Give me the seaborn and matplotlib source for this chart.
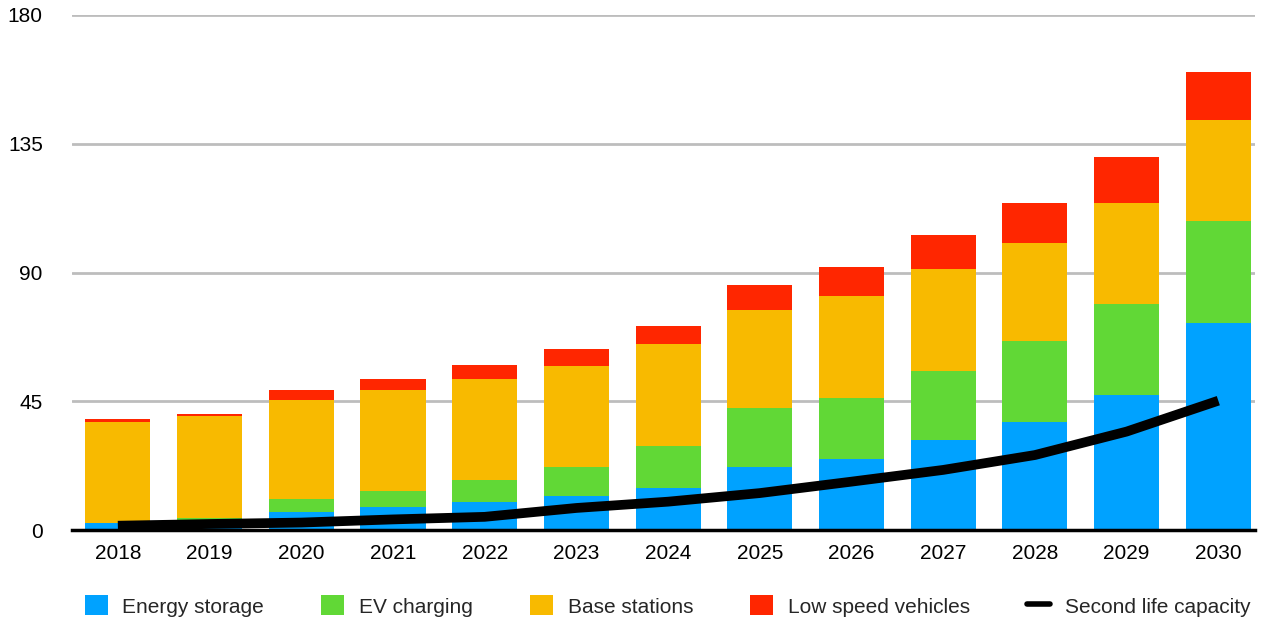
import numpy as np
import pandas as pd
import matplotlib
matplotlib.use("Agg")
import matplotlib.pyplot as plt
from matplotlib.patches import Patch
from matplotlib.lines import Line2D
import seaborn as sns

years = ["2018", "2019", "2020", "2021", "2022", "2023", "2024",
         "2025", "2026", "2027", "2028", "2029", "2030"]
energy_storage = [2.5, 3.6, 6.3, 8.0, 9.8, 12.0, 14.7, 22.0, 24.8, 31.5, 37.7, 47.2, 72.4]
ev_charging = [0.0, 0.7, 4.5, 5.6, 7.7, 10.0, 14.8, 20.8, 21.3, 24.1, 28.4, 31.8, 35.6]
base_stations = [35.2, 35.6, 34.6, 35.3, 35.3, 35.3, 35.5, 34.1, 35.7, 35.6, 34.2, 35.3, 35.3]
low_speed = [1.1, 0.7, 3.5, 3.9, 4.9, 6.0, 6.3, 8.7, 10.1, 11.9, 14.0, 16.1, 16.8]
second_life = [1.5, 2.1, 2.6, 3.7, 4.6, 7.7, 9.9, 12.9, 16.9, 21.0, 26.2, 34.4, 45.2]
y_ticks = [0, 45, 90, 135, 180]

series_names = ["Energy storage", "EV charging", "Base stations", "Low speed vehicles"]
colors = ["#00A2FF", "#61D836", "#F8BA00", "#FF2600"]

sns.set_theme(style="white")
plt.rcParams["font.family"] = ["Liberation Sans", "DejaVu Sans"]

fig = plt.figure(figsize=(12.67, 6.21), dpi=100)
ax = fig.add_axes([72 / 1267, 1 - 530 / 621, (1255 - 72) / 1267, 515 / 621])

layers = np.array([energy_storage, ev_charging, base_stations, low_speed])
cum = np.cumsum(layers, axis=0)
df = pd.DataFrame({"year": years})
for i in range(len(series_names)):
    df[series_names[i]] = cum[i]

# draw cumulative totals from top to bottom so the stacks appear
for i in reversed(range(len(series_names))):
    sns.barplot(data=df, x="year", y=series_names[i], color=colors[i],
                width=0.71, saturation=1, ax=ax, zorder=2, linewidth=0,
                edgecolor="none")

line_df = pd.DataFrame({"pos": np.arange(len(years)), "val": second_life})
sns.lineplot(data=line_df, x="pos", y="val", color="black", linewidth=7,
             ax=ax, zorder=4, solid_capstyle="butt")

ax.set_ylim(0, 180)
ax.set_xlim(-0.5, 12.4)
ax.set_yticks(y_ticks)
ax.set_yticklabels([str(v) for v in y_ticks])
ax.set_xlabel("")
ax.set_ylabel("")
ax.yaxis.grid(True, color="#BDBDBD", linewidth=2, zorder=0)
ax.xaxis.grid(False)
ax.set_axisbelow(True)
for s in ["top", "right", "left"]:
    ax.spines[s].set_visible(False)
ax.spines["bottom"].set_color("black")
ax.spines["bottom"].set_linewidth(2.5)
ax.spines["bottom"].set_zorder(5)
ax.tick_params(axis="y", length=0, pad=21, labelsize=15, labelcolor="black")
ax.tick_params(axis="x", length=0, pad=10, labelsize=15, labelcolor="black")

handles = [Patch(facecolor=c, edgecolor="none") for c in colors]
handles.append(Line2D([0], [0], color="black", linewidth=4))
labels = series_names + ["Second life capacity"]
fig.legend(handles, labels, loc="center", bbox_to_anchor=(0.527, 1 - 606 / 621),
           ncol=5, frameon=False, fontsize=15, handlelength=1.1,
           handleheight=1.1, handletextpad=0.7, columnspacing=2.75)

fig.savefig("out.png", dpi=100)
